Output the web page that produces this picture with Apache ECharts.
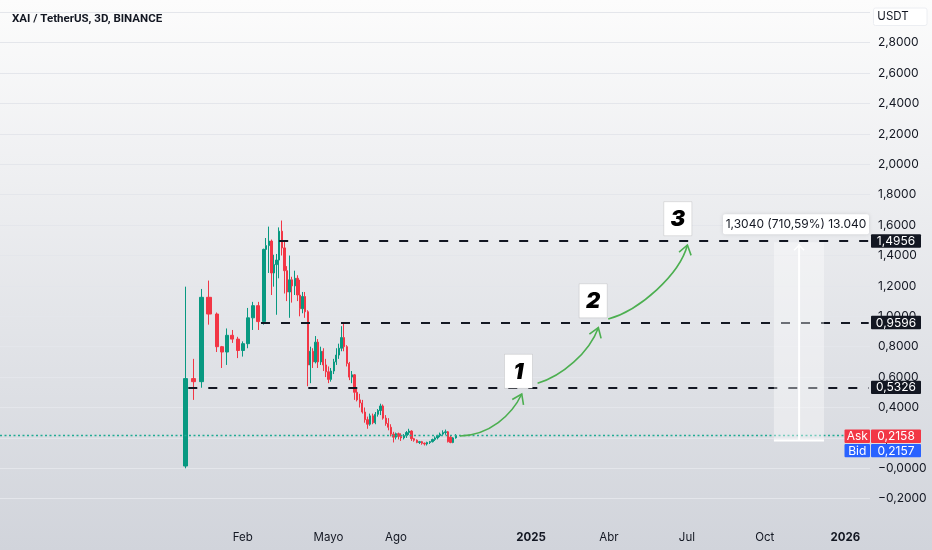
<!DOCTYPE html>
<html><head><meta charset="utf-8">
<script src="https://cdn.jsdelivr.net/npm/echarts@6/dist/echarts.min.js"></script>
<style>html,body{margin:0;padding:0;width:932px;height:550px;overflow:hidden}#c{width:932px;height:550px}</style>
</head><body><div id="c"></div>
<script>
// ---------- data ----------
const SLOT_COUNT = 335;                 // 3-day bar slots on the time scale
const tickSlots = [93, 126, 152, 204, 234, 264, 294, 325];
const tickTexts = ['Feb', 'Mayo', 'Ago', '2025', 'Abr', 'Jul', 'Oct', '2026'];
const yearTicks = ['2025', '2026'];

// candles: [open, close, low, high]
const candlesWide = [
  [0.015, 0.59, 0.0, 1.195],
  [0.59, 0.57, 0.45, 0.72],
  [0.57, 1.125, 0.53, 1.18],
  [1.125, 1.015, 0.945, 1.235]
];
const candlesMid = [
  [1.015, 0.80, 0.765, 1.025],
  [0.80, 0.765, 0.66, 0.805],
  [0.765, 0.875, 0.68, 0.92],
  [0.875, 0.85, 0.825, 0.91],
  [0.85, 0.775, 0.725, 0.865],
  [0.775, 0.82, 0.735, 0.835],
  [0.82, 0.99, 0.79, 1.055],
  [0.99, 1.07, 0.91, 1.095],
  [1.07, 0.965, 0.91, 1.095],
  [0.965, 1.44, 0.945, 1.445]
];
const candlesNarrow = [
  [1.44,1.465,1.24,1.515],[1.465,1.495,1.285,1.59],[1.495,1.285,1.14,1.505],[1.285,1.34,1.195,1.405],
  [1.34,1.37,1.01,1.41],[1.37,1.56,1.25,1.585],[1.56,1.45,1.40,1.63],[1.45,1.30,1.15,1.49],
  [1.30,1.16,1.10,1.33],[1.16,1.24,0.99,1.40],[1.24,1.20,1.09,1.26],[1.20,1.25,1.14,1.30],
  [1.25,1.14,1.10,1.27],[1.14,1.05,1.00,1.24],[1.05,1.13,1.02,1.16],[1.13,1.03,0.99,1.16],
  [1.03,0.68,0.54,1.04],[0.68,0.77,0.56,0.80],[0.77,0.70,0.66,0.79],[0.70,0.83,0.69,0.87],
  [0.83,0.70,0.66,0.85],[0.70,0.77,0.68,0.80],[0.77,0.68,0.64,0.79],[0.68,0.635,0.60,0.72],
  [0.635,0.585,0.56,0.67],[0.585,0.64,0.57,0.66],[0.64,0.70,0.62,0.72],[0.70,0.745,0.68,0.79],
  [0.745,0.79,0.72,0.82],[0.79,0.86,0.77,0.935],[0.86,0.80,0.77,0.96],[0.80,0.69,0.67,0.81],
  [0.69,0.60,0.58,0.70],[0.60,0.615,0.56,0.64],[0.615,0.50,0.45,0.62],[0.50,0.45,0.44,0.53],
  [0.45,0.43,0.40,0.49],[0.43,0.37,0.36,0.45],[0.37,0.32,0.30,0.40],[0.32,0.29,0.26,0.34],
  [0.29,0.345,0.28,0.36],[0.345,0.30,0.29,0.36],[0.30,0.355,0.29,0.37],[0.355,0.38,0.34,0.39],
  [0.38,0.41,0.35,0.425],[0.41,0.33,0.32,0.42],[0.33,0.295,0.28,0.35],[0.295,0.27,0.25,0.33],
  [0.27,0.225,0.21,0.29],[0.225,0.205,0.17,0.24],[0.205,0.228,0.19,0.235],[0.228,0.21,0.19,0.235],
  [0.21,0.20,0.18,0.23],[0.20,0.215,0.19,0.225],[0.215,0.235,0.20,0.245],[0.235,0.245,0.22,0.26],
  [0.245,0.195,0.18,0.25],[0.195,0.185,0.175,0.20],[0.185,0.17,0.165,0.19],[0.17,0.175,0.16,0.18],
  [0.175,0.165,0.155,0.18],[0.165,0.16,0.15,0.17],[0.16,0.17,0.15,0.175],[0.17,0.175,0.16,0.18],
  [0.175,0.19,0.17,0.195],[0.19,0.20,0.18,0.21],[0.20,0.215,0.19,0.22],[0.215,0.225,0.205,0.235],
  [0.225,0.235,0.215,0.25],[0.235,0.24,0.22,0.255],[0.24,0.175,0.17,0.245],[0.205,0.17,0.165,0.215],
  [0.17,0.20,0.165,0.205],[0.20,0.2158,0.195,0.225]
];
const levelPrices = [1.4956, 0.9596, 0.5326];
const levelLabels = ['1,4956', '0,9596', '0,5326'];
const askPrice = 0.2158, bidPrice = 0.2157;
const askLabel = '0,2158', bidLabel = '0,2157';
const measureFrom = 0.1835, measureTo = 1.4875;
const measureText = '1,3040 (710,59%) 13.040';
const stepLabels = ['1', '2', '3'];

// ---------- layout / style ----------
const GRID = {left: 0, right: 62, top: -18.1, bottom: 20.9};
const UP = '#089981', DOWN = '#f23645', INK = '#131722';
const FONT = 'Inter, "Noto Sans", sans-serif';
const groups = [
  {rows: candlesWide, start: 71, step: 3, width: 5},
  {rows: candlesMid, start: 83, step: 2, width: 3.5},
  {rows: candlesNarrow, start: 102, step: 1, width: 1.8}
];
const levelStartSlots = [107, 100, 72];
const lastSlot = SLOT_COUNT - 1;

const fmt = v => {
  if (Math.abs(v) < 1e-9) return '\u22120,0000';
  const s = Math.abs(v).toFixed(4).replace('.', ',');
  return (v < 0 ? '\u2212' : '') + s;
};

const slots = Array.from({length: SLOT_COUNT}, (_, i) => String(i));
const tickMap = {};
tickSlots.forEach((s, i) => tickMap[s] = tickTexts[i]);

const series = groups.map((g) => ({
  type: 'candlestick',
  xAxisIndex: 0, yAxisIndex: 0,
  barWidth: g.width,
  encode: {x: 0, y: [1, 2, 3, 4]},
  data: g.rows.map((r, i) => [g.start + i * g.step, r[0], r[1], r[2], r[3]]),
  itemStyle: {color: UP, color0: DOWN, borderColor: UP, borderColor0: DOWN, borderWidth: 1},
  animation: false,
  silent: true,
  z: 3
}));
// dotted last-price line
series[0].markLine = {
  symbol: ['none', 'none'], silent: true, animation: false,
  label: {show: false},
  lineStyle: {type: [2, 2.5], color: '#22ab94', width: 1.3, opacity: 1},
  data: [{yAxis: askPrice}]
};
// dashed target levels
series[2].markLine = {
  symbol: ['none', 'none'], silent: true, animation: false,
  label: {show: false},
  lineStyle: {type: [9, 11], color: INK, width: 2, opacity: 1},
  data: levelPrices.map((p, i) => [{coord: [levelStartSlots[i], p]}, {coord: [lastSlot, p]}])
};

const option = {
  animation: false,
  backgroundColor: {type: 'linear', x: 0, y: 0, x2: 0, y2: 1,
    colorStops: [{offset: 0, color: '#fcfcfc'}, {offset: 1, color: '#d1d4db'}]},
  title: {text: 'XAI / TetherUS, 3D, BINANCE', left: 7, top: 8,
    textStyle: {fontSize: 11.5, fontWeight: 'bold', color: INK, fontFamily: 'Roboto, "Noto Sans", sans-serif'}},
  grid: Object.assign({containLabel: false, outerBoundsMode: 'none'}, GRID),
  xAxis: [{
    type: 'category', data: slots, boundaryGap: true,
    axisLine: {show: false}, axisTick: {show: false}, splitLine: {show: false},
    axisLabel: {
      interval: (idx) => tickMap[idx] !== undefined,
      formatter: (v, idx) => {
        const t = tickMap[idx];
        if (t === undefined) return '';
        return yearTicks.includes(t) ? '{b|' + t + '}' : t;
      },
      margin: 2, color: INK, fontSize: 11.5, fontFamily: FONT,
      rich: {b: {fontWeight: 'bold', fontSize: 11.5, color: INK, fontFamily: FONT}}
    }
  }, {
    type: 'value', show: false, min: -0.5, max: SLOT_COUNT - 0.5
  }],
  yAxis: [{
    type: 'value', position: 'right', min: -0.4, max: 3.2, interval: 0.2,
    axisLine: {show: false}, axisTick: {show: false},
    splitLine: {show: true, showMinLine: false, showMaxLine: false, lineStyle: {color: '#e4e6eb', width: 1}},
    axisLabel: {
      margin: 8, color: INK, fontSize: 12, fontFamily: FONT,
      formatter: v => (v > 2.81 || v < -0.21) ? '' : fmt(v)
    }
  }],
  series: series
};

const chart = echarts.init(document.getElementById('c'));
chart.setOption(option);

// ---------- annotations (data coords -> pixels) ----------
const px = (slot, price) => chart.convertToPixel({xAxisIndex: 1, yAxisIndex: 0}, [slot, price]);
const py = price => px(0, price)[1];
const gridRight = 932 - GRID.right;
const g = [];

// measurement tool
const mL = px(297.5, measureTo), mR = px(316.8, measureFrom), mC = px(307.2, measureTo);
g.push({type: 'rect', shape: {x: mL[0], y: mL[1], width: mR[0] - mL[0], height: mR[1] - mL[1]},
  style: {fill: 'rgba(255,255,255,0.38)'}, z: 10});
g.push({type: 'line', shape: {x1: mC[0], y1: mL[1] + 2, x2: mC[0], y2: mR[1]}, style: {stroke: '#ffffff', lineWidth: 2}, z: 11});
g.push({type: 'line', shape: {x1: mL[0], y1: mR[1], x2: mR[0], y2: mR[1]}, style: {stroke: '#ffffff', lineWidth: 2}, z: 11});
g.push({type: 'polyline', shape: {points: [[mC[0] - 5, mL[1] + 8], [mC[0], mL[1] + 3], [mC[0] + 5, mL[1] + 8]]}, style: {stroke: '#ffffff', lineWidth: 1.5, fill: null}, z: 11});
const lblC = px(306, measureTo);
g.push({type: 'rect', shape: {x: lblC[0] - 73, y: lblC[1] - 28, width: 146, height: 20, r: 2},
  style: {fill: '#ffffff', shadowBlur: 4, shadowColor: 'rgba(0,0,0,0.12)'}, z: 12});
g.push({type: 'text', x: lblC[0], y: lblC[1] - 18,
  style: {text: measureText, fill: INK, fontSize: 12, fontFamily: FONT, align: 'center', verticalAlign: 'middle'}, z: 13});

// step boxes
const boxPos = [[199.15, 0.638], [227.9, 1.102], [260.5, 1.642]];
stepLabels.forEach((t, i) => {
  const c = px(boxPos[i][0], boxPos[i][1]);
  g.push({type: 'rect', shape: {x: c[0] - 14, y: c[1] - 17, width: 28, height: 34},
    style: {fill: '#ffffff', stroke: 'rgba(0,0,0,0.10)', lineWidth: 1}, z: 14});
  g.push({type: 'text', x: c[0], y: c[1] + 1,
    style: {text: t, fill: '#000000', fontSize: 22, fontWeight: 900, fontStyle: 'italic', fontFamily: FONT,
      align: 'center', verticalAlign: 'middle'}, z: 15});
});

// curved arrows
const arrows = [
  {from: [176.6, 0.2125], to: [200.4, 0.489], c1: [0.48, 0.02], c2: [0.84, 0.5]},
  {from: [206.5, 0.559], to: [229.9, 0.925], c1: [0.40, 0.13], c2: [0.85, 0.55]},
  {from: [233.7, 0.982], to: [264.2, 1.469], c1: [0.40, 0.12], c2: [0.90, 0.60]}
];
arrows.forEach(a => {
  const p0 = px(a.from[0], a.from[1]), p3 = px(a.to[0], a.to[1]);
  const dx = p3[0] - p0[0], dy = p3[1] - p0[1];
  const c1 = [p0[0] + a.c1[0] * dx, p0[1] + a.c1[1] * dy];
  const c2 = [p0[0] + a.c2[0] * dx, p0[1] + a.c2[1] * dy];
  g.push({type: 'bezierCurve', shape: {x1: p0[0], y1: p0[1], x2: p3[0], y2: p3[1],
    cpx1: c1[0], cpy1: c1[1], cpx2: c2[0], cpy2: c2[1]},
    style: {stroke: '#4caf50', lineWidth: 1.6, fill: null}, z: 16});
  const ang = Math.atan2(p3[1] - c2[1], p3[0] - c2[0]);
  const L = 11, sp = 0.6;
  const arm = s => [p3[0] - L * Math.cos(ang + s * sp), p3[1] - L * Math.sin(ang + s * sp)];
  g.push({type: 'polyline', shape: {points: [arm(1), p3, arm(-1)]},
    style: {stroke: '#4caf50', lineWidth: 1.6, fill: null}, z: 16});
});

// price tags on the scale
function tag(y, text, bg) {
  g.push({type: 'rect', shape: {x: gridRight + 1, y: y - 6.7, width: 50, height: 13.4, r: 1}, style: {fill: bg}, z: 20});
  g.push({type: 'text', x: gridRight + 26, y: y + 0.5,
    style: {text: text, fill: '#ffffff', fontSize: 12, fontFamily: FONT, align: 'center', verticalAlign: 'middle'}, z: 21});
}
function sideTag(y, text, bg) {
  g.push({type: 'rect', shape: {x: gridRight - 25.5, y: y - 6.7, width: 25.5, height: 13.4, r: 1}, style: {fill: bg}, z: 20});
  g.push({type: 'text', x: gridRight - 12.7, y: y + 0.5,
    style: {text: text, fill: '#ffffff', fontSize: 12, fontFamily: FONT, align: 'center', verticalAlign: 'middle'}, z: 21});
}
levelPrices.forEach((p, i) => tag(py(p), levelLabels[i], INK));
const yAsk = py(askPrice) + 0.8;
tag(yAsk, askLabel, '#f23645'); sideTag(yAsk, 'Ask', '#f23645');
tag(yAsk + 14.3, bidLabel, '#2962ff'); sideTag(yAsk + 14.3, 'Bid', '#2962ff');

// currency box
g.push({type: 'rect', shape: {x: 873.5, y: 8, width: 53.5, height: 17.5, r: 2},
  style: {fill: '#ffffff', stroke: '#eceef2', lineWidth: 1}, z: 20});
g.push({type: 'text', x: 893, y: 17, style: {text: 'USDT', fill: INK, fontSize: 11.5, fontFamily: FONT, align: 'center', verticalAlign: 'middle'}, z: 21});

chart.setOption({graphic: {elements: g}});
</script>
</body></html>
